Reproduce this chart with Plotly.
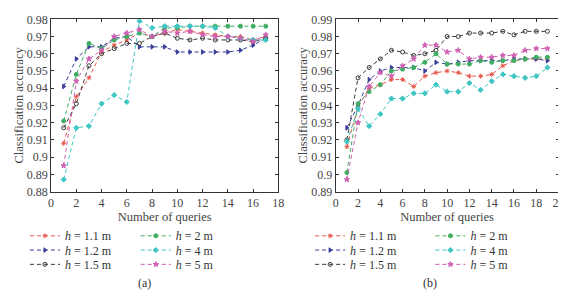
import plotly.graph_objects as go

# ---------------- data ----------------
x_a = list(range(1, 18))
a_h11 = [0.908, 0.935, 0.946, 0.961, 0.965, 0.968, 0.972, 0.970, 0.972, 0.974, 0.973, 0.972, 0.971, 0.970, 0.970, 0.968, 0.970]
a_h12 = [0.941, 0.957, 0.964, 0.964, 0.969, 0.970, 0.964, 0.964, 0.964, 0.961, 0.961, 0.961, 0.961, 0.961, 0.962, 0.965, 0.969]
a_h15 = [0.917, 0.931, 0.953, 0.960, 0.963, 0.966, 0.966, 0.970, 0.972, 0.969, 0.968, 0.969, 0.968, 0.968, 0.968, 0.967, 0.969]
a_h2 = [0.921, 0.948, 0.966, 0.963, 0.968, 0.970, 0.972, 0.970, 0.975, 0.975, 0.976, 0.976, 0.976, 0.976, 0.976, 0.976, 0.976]
a_h4 = [0.887, 0.917, 0.918, 0.931, 0.936, 0.932, 0.979, 0.975, 0.976, 0.976, 0.976, 0.976, 0.975, 0.970, 0.969, 0.968, 0.968]
a_h5 = [0.895, 0.944, 0.957, 0.962, 0.970, 0.972, 0.974, 0.970, 0.973, 0.972, 0.973, 0.971, 0.970, 0.970, 0.969, 0.967, 0.971]

x_b = list(range(1, 20))
b_h11 = [0.916, 0.939, 0.950, 0.952, 0.955, 0.955, 0.951, 0.957, 0.959, 0.960, 0.959, 0.957, 0.957, 0.958, 0.963, 0.966, 0.967, 0.967, 0.967]
b_h12 = [0.927, 0.940, 0.955, 0.960, 0.962, 0.962, 0.962, 0.960, 0.965, 0.964, 0.965, 0.966, 0.966, 0.966, 0.966, 0.967, 0.967, 0.967, 0.966]
b_h15 = [0.920, 0.956, 0.962, 0.967, 0.972, 0.971, 0.969, 0.970, 0.972, 0.980, 0.980, 0.982, 0.982, 0.982, 0.983, 0.981, 0.983, 0.983, 0.983]
b_h2 = [0.901, 0.941, 0.948, 0.952, 0.960, 0.961, 0.962, 0.965, 0.970, 0.964, 0.964, 0.964, 0.966, 0.965, 0.966, 0.966, 0.967, 0.968, 0.968]
b_h4 = [0.919, 0.938, 0.928, 0.935, 0.944, 0.944, 0.947, 0.947, 0.952, 0.948, 0.948, 0.953, 0.949, 0.954, 0.958, 0.957, 0.956, 0.957, 0.962]
b_h5 = [0.897, 0.930, 0.951, 0.959, 0.957, 0.963, 0.967, 0.975, 0.975, 0.971, 0.972, 0.967, 0.968, 0.968, 0.969, 0.969, 0.972, 0.973, 0.973]

labels = ["<i>h</i> = 1.1 m", "<i>h</i> = 1.2 m", "<i>h</i> = 1.5 m",
          "<i>h</i> = 2 m", "<i>h</i> = 4 m", "<i>h</i> = 5 m"]
colors = ["#e8574b", "#3a3d99", "#3a3a3a", "#3fae63", "#3ec6c4", "#d05fb3"]
symbols = ["asterisk-open", "triangle-right", "circle-open", "circle", "diamond", "star"]

FONT = "Liberation Serif"

fig = go.Figure()

series_a = [a_h11, a_h12, a_h15, a_h2, a_h4, a_h5]
series_b = [b_h11, b_h12, b_h15, b_h2, b_h4, b_h5]

# legend placement (paper coords): column x for each panel, row y
leg_x_a = [0.025, 0.224]
leg_x_b = [0.537, 0.753]
row_y = [1 - 232 / 290, 1 - 247 / 290, 1 - 262 / 290]

legend_layout = {}
leg_idx = 0


def add_series(xs, ys, i, xa, ya, col_x):
    global leg_idx
    leg_idx += 1
    key = "legend" if leg_idx == 1 else f"legend{leg_idx}"
    fig.add_trace(go.Scatter(
        x=xs, y=ys, mode="lines+markers", name=labels[i],
        line=dict(color=colors[i], width=1, dash="4px,3px"),
        marker=dict(color=colors[i], symbol=symbols[i], size=4,
                    line=dict(color=colors[i], width=1)),
        xaxis=xa, yaxis=ya, legend=key,
    ))
    legend_layout[key] = dict(
        x=col_x[i // 3], y=row_y[i % 3], xanchor="left", yanchor="middle",
        orientation="v", font=dict(family=FONT, size=12, color="#333"),
        bgcolor="rgba(0,0,0,0)", itemwidth=30,
    )


for i, ys in enumerate(series_a):
    add_series(x_a, ys, i, "x", "y", leg_x_a)
for i, ys in enumerate(series_b):
    add_series(x_b, ys, i, "x2", "y2", leg_x_b)

axis_common = dict(
    showline=True, linecolor="#333", linewidth=1, mirror="ticks",
    ticks="inside", ticklen=3, tickcolor="#333", showgrid=False, zeroline=False,
    tickfont=dict(family=FONT, size=12, color="#444"),
    ticklabeloverflow="allow",
)
ydom = [0.3603, 0.9845]
title_font = dict(family=FONT, size=12.5, color="#444")

fig.update_layout(
    width=566, height=290, margin=dict(l=0, r=0, t=0, b=0),
    paper_bgcolor="white", plot_bgcolor="white",
    font=dict(family=FONT, size=12, color="#333"),
    xaxis=dict(domain=[0.0719, 0.480], range=[0, 18.0001], dtick=2, anchor="y",
               title=dict(text="Number of queries", standoff=2, font=title_font),
               **axis_common),
    yaxis=dict(domain=ydom, range=[0.88, 0.98001], dtick=0.01, anchor="x",
               title=dict(text="Classification accuracy", standoff=0, font=title_font),
               **axis_common),
    xaxis2=dict(domain=[0.583, 0.983], range=[0, 20.0001], dtick=2, anchor="y2",
                title=dict(text="Number of queries", standoff=2, font=title_font),
                **axis_common),
    yaxis2=dict(domain=ydom, range=[0.89, 0.99001], dtick=0.01, anchor="x2",
                title=dict(text="Classification accuracy", standoff=0, font=title_font),
                **axis_common),
    showlegend=True,
    annotations=[
        dict(text="(a)", x=0.239, y=8 / 290, xref="paper", yref="paper",
             showarrow=False, font=dict(family=FONT, size=12, color="#333"),
             yanchor="middle", xanchor="center"),
        dict(text="(b)", x=0.753, y=8 / 290, xref="paper", yref="paper",
             showarrow=False, font=dict(family=FONT, size=12, color="#333"),
             yanchor="middle", xanchor="center"),
    ],
    **legend_layout,
)

fig.write_html("out.html")
